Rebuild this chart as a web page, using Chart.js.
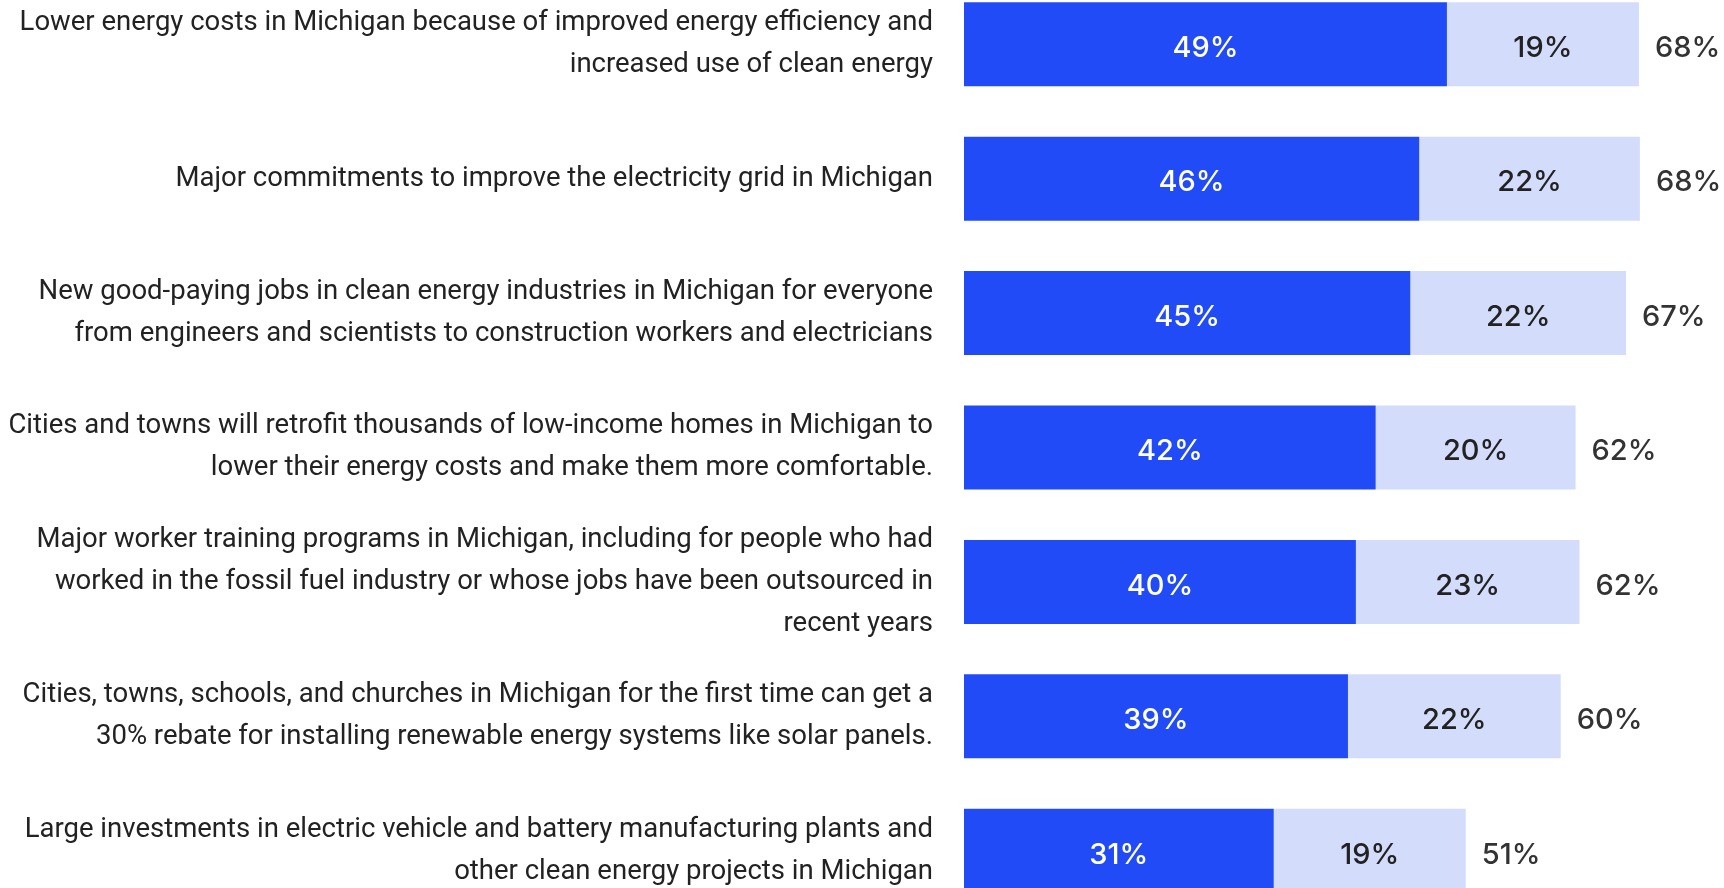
<!DOCTYPE html>
<html>
<head>
<meta charset="utf-8">
<script src="https://cdn.jsdelivr.net/npm/chart.js@4.4.1/dist/chart.umd.min.js"></script>
<style>
  html, body { margin: 0; padding: 0; background: #fff; overflow: hidden; }
  #wrap { position: absolute; left: 0; top: -23px; width: 1724px; height: 941px; }
</style>
</head>
<body>
<div id="wrap"><canvas id="chart"></canvas></div>
<script>
// подписи категорий (многострочные)
const categories = [
  ['Lower energy costs in Michigan because of improved energy efficiency and', 'increased use of clean energy'],
  ['Major commitments to improve the electricity grid in Michigan'],
  ['New good-paying jobs in clean energy industries in Michigan for everyone', 'from engineers and scientists to construction workers and electricians'],
  ['Cities and towns will retrofit thousands of low-income homes in Michigan to', 'lower their energy costs and make them more comfortable.'],
  ['Major worker training programs in Michigan, including for people who had', 'worked in the fossil fuel industry or whose jobs have been outsourced in', 'recent years'],
  ['Cities, towns, schools, and churches in Michigan for the first time can get a', '30% rebate for installing renewable energy systems like solar panels.'],
  ['Large investments in electric vehicle and battery manufacturing plants and', 'other clean energy projects in Michigan']
];

// значения (оценка по картинке, %)
const strongly = [48.8, 46.0, 45.1, 41.6, 39.6, 38.8, 31.3];
const somewhat = [19.4, 22.3, 21.8, 20.2, 22.6, 21.5, 19.4];

const DARK = '#214bf6';
const LIGHT = '#d4dcfc';
const VALUE_FONT = '500 29px Inter, "Open Sans", sans-serif';

// подписи значений внутри баров и сумма справа
const valueLabels = {
  id: 'valueLabels',
  afterDatasetsDraw(chart) {
    const { ctx } = chart;
    ctx.save();
    ctx.font = VALUE_FONT;
    ctx.textBaseline = 'middle';
    chart.data.datasets.forEach((ds, di) => {
      const meta = chart.getDatasetMeta(di);
      meta.data.forEach((bar, i) => {
        const cx = (bar.x + bar.base) / 2;
        ctx.textAlign = 'center';
        ctx.fillStyle = di === 0 ? '#ffffff' : '#222222';
        ctx.fillText(Math.round(ds.data[i]) + '%', cx, bar.y + 4);
        if (di === chart.data.datasets.length - 1) {
          const total = Math.round(strongly[i] + somewhat[i]);
          ctx.textAlign = 'left';
          ctx.fillStyle = '#333333';
          ctx.fillText(total + '%', bar.x + 16, bar.y + 4);
        }
      });
    });
    ctx.restore();
  }
};

new Chart(document.getElementById('chart'), {
  type: 'bar',
  data: {
    labels: categories,
    datasets: [
      { label: 'Strongly', data: strongly, backgroundColor: DARK },
      { label: 'Somewhat', data: somewhat, backgroundColor: LIGHT }
    ]
  },
  options: {
    indexAxis: 'y',
    responsive: true,
    maintainAspectRatio: false,
    animation: false,
    layout: { padding: 0 },
    datasets: {
      bar: { categoryPercentage: 1, barPercentage: 0.625, borderWidth: 0 }
    },
    plugins: {
      legend: { display: false },
      tooltip: { enabled: false }
    },
    scales: {
      x: {
        stacked: true,
        display: false,
        min: 0,
        max: 76.8
      },
      y: {
        stacked: true,
        grid: { display: false, drawTicks: false },
        border: { display: false },
        afterFit(scale) {
          scale.width = 964;
          scale.paddingTop = 0;
          scale.paddingBottom = 0;
        },
        ticks: {
          padding: 31,
          color: '#222222',
          font: { family: 'Roboto, "Liberation Sans", sans-serif', size: 27.5, lineHeight: 1.527 }
        }
      }
    }
  },
  plugins: [valueLabels]
});
</script>
</body>
</html>
